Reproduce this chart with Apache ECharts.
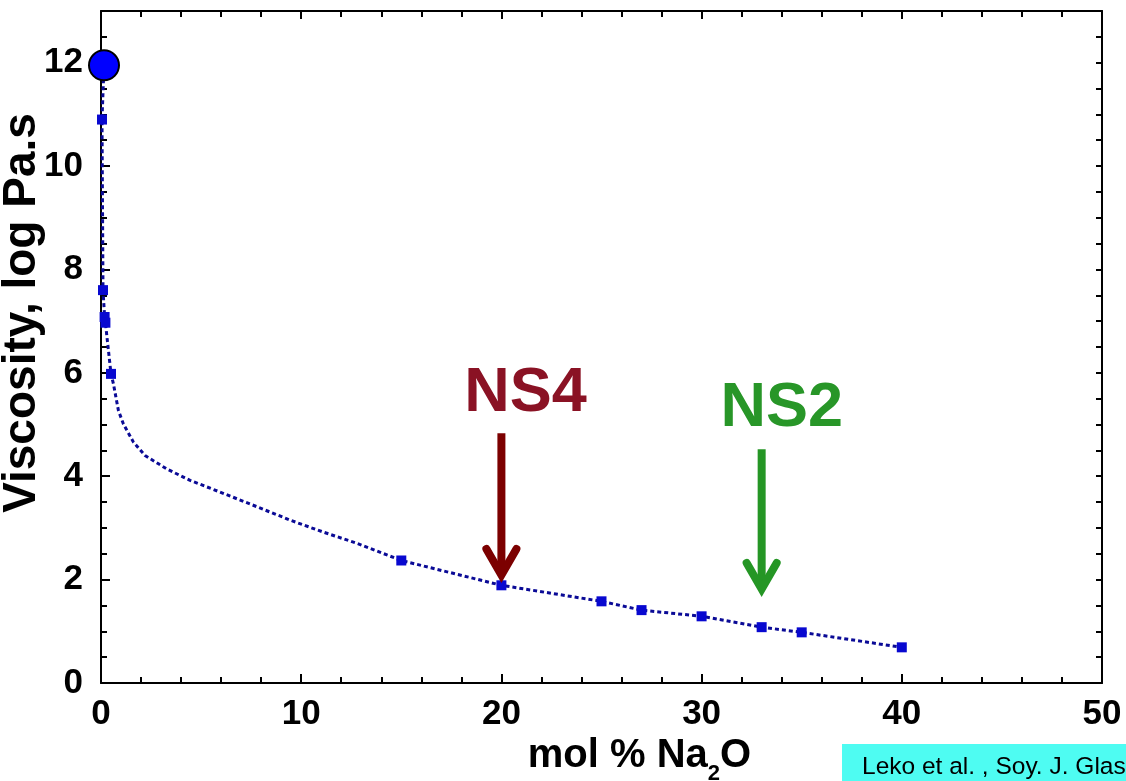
<!DOCTYPE html>
<html>
<head>
<meta charset="utf-8">
<script src="https://cdn.jsdelivr.net/npm/echarts@6/dist/echarts.min.js"></script>
<style>
  html, body { margin: 0; padding: 0; background: #ffffff; }
  #chart { width: 1126px; height: 781px; }
</style>
</head>
<body>
<div id="chart"></div>
<script>
// Measured viscosities of sodium silicate melts: composition (mol % Na2O) vs log10 viscosity (Pa.s)
const measuredX = [0.05, 0.1, 0.18, 0.22, 0.5, 15, 20, 25, 27, 30, 33, 35, 40];
const measuredY = [10.9, 7.6, 7.08, 6.97, 5.98, 2.37, 1.89, 1.58, 1.41, 1.29, 1.08, 0.98, 0.69];

// Pure silica reference point
const silicaX = [0.15];
const silicaY = [11.95];

// Trend curve through the measurements
const curveX = [0.15, 0.05, 0.1, 0.18, 0.22, 0.5, 0.62, 0.87, 1.12, 1.62, 2.2, 3.29, 4.45, 6.1, 7.79, 9.45, 11.1, 12.8, 15, 20, 25, 27, 30, 33, 35, 40];
const curveY = [11.95, 10.9, 7.6, 7.08, 6.97, 5.98, 5.79, 5.27, 5.01, 4.66, 4.4, 4.14, 3.92, 3.67, 3.41, 3.15, 2.92, 2.7, 2.37, 1.89, 1.58, 1.41, 1.29, 1.08, 0.98, 0.69];

// Glass compositions called out with arrows
const calloutNames = ['NS4', 'NS2'];
const calloutX = [20, 33];
const calloutTop = [4.83, 4.52];
const calloutTip = [2.03, 1.76];
const calloutLabelX = [21.2, 34.0];
const calloutLabelY = [5.6, 5.31];

const citation = 'Leko et al. , Soy. J. Glass Phys. Chem.';

const FONT = '"Liberation Sans", Arial, Helvetica, sans-serif';
const arrowColors = ['#7c0000', '#259625'];
const labelColors = ['#8a1224', '#289628'];

const zip = (xs, ys) => xs.map((x, i) => [x, ys[i]]);

const chart = echarts.init(document.getElementById('chart'), null, { renderer: 'canvas' });

const tickStyle = { color: '#000', width: 2 };
const baseAxisLine = { show: true, onZero: false, lineStyle: { color: '#000', width: 2 } };

const option = {
  animation: false,
  backgroundColor: '#ffffff',
  grid: { left: 101, right: 24, top: 11, bottom: 98, containLabel: false, outerBoundsMode: 'none' },
  xAxis: [
    {
      type: 'value', position: 'bottom', min: 0, max: 50, interval: 10,
      axisLine: baseAxisLine,
      axisTick: { show: true, inside: true, length: 9, lineStyle: tickStyle },
      minorTick: { show: true, splitNumber: 5, length: 6, lineStyle: tickStyle },
      splitLine: { show: false },
      axisLabel: { show: true, margin: 14, color: '#000', fontFamily: FONT, fontWeight: 'bold', fontSize: 35 },
      name: '{a|mol % Na}{s|2}{a|O}',
      nameLocation: 'middle',
      nameGap: 44,
      nameMoveOverlap: false,
      nameTextStyle: {
        padding: [0, 0, 0, 76],
        rich: {
          a: { color: '#000', fontFamily: FONT, fontWeight: 'bold', fontSize: 40, lineHeight: 58, verticalAlign: 'middle' },
          s: { color: '#000', fontFamily: FONT, fontWeight: 'bold', fontSize: 22, lineHeight: 26, verticalAlign: 'bottom' }
        }
      }
    },
    {
      type: 'value', position: 'top', min: 0, max: 50, interval: 10,
      axisLine: baseAxisLine,
      axisTick: { show: true, inside: true, length: 8, lineStyle: tickStyle },
      minorTick: { show: true, splitNumber: 5, length: 6, lineStyle: tickStyle },
      splitLine: { show: false },
      axisLabel: { show: false }
    }
  ],
  yAxis: [
    {
      type: 'value', position: 'left', min: 0, max: 13, interval: 2,
      axisLine: baseAxisLine,
      axisTick: { show: true, inside: true, length: 9, lineStyle: tickStyle },
      splitLine: { show: false },
      axisLabel: {
        show: true, margin: 18, color: '#000', fontFamily: FONT, fontWeight: 'bold', fontSize: 35,
        showMaxLabel: false,
        formatter: v => (v % 2 === 0 ? String(v) : '')
      },
      name: 'Viscosity, log Pa.s',
      nameLocation: 'middle',
      nameGap: 56,
      nameMoveOverlap: false,
      nameTextStyle: { color: '#000', fontFamily: FONT, fontWeight: 'bold', fontSize: 46, padding: [0, 0, 0, 68] }
    },
    {
      type: 'value', position: 'left', min: 0, max: 13, interval: 0.5,
      axisLine: { show: false },
      axisTick: { show: true, inside: true, length: 6, lineStyle: tickStyle },
      splitLine: { show: false },
      axisLabel: { show: false }
    },
    {
      type: 'value', position: 'right', min: 0, max: 13, interval: 0.5,
      axisLine: baseAxisLine,
      axisTick: { show: true, inside: true, length: 6, lineStyle: tickStyle },
      splitLine: { show: false },
      axisLabel: { show: false }
    }
  ],
  series: [
    {
      name: 'trend',
      type: 'line',
      xAxisIndex: 0, yAxisIndex: 0,
      data: zip(curveX, curveY),
      showSymbol: false,
      symbol: 'none',
      smooth: false,
      lineStyle: { color: '#0a0a96', width: 3, type: [4, 3] },
      z: 2
    },
    {
      name: 'measured',
      type: 'scatter',
      xAxisIndex: 0, yAxisIndex: 0,
      data: zip(measuredX, measuredY),
      symbol: 'rect',
      symbolSize: 10,
      itemStyle: { color: '#0808d0', opacity: 1 },
      z: 3
    },
    {
      name: 'silica',
      type: 'scatter',
      xAxisIndex: 0, yAxisIndex: 0,
      data: zip(silicaX, silicaY),
      symbol: 'circle',
      symbolSize: 30,
      itemStyle: { color: '#0000ff', borderColor: '#000', borderWidth: 2, opacity: 1 },
      z: 4
    },
    {
      name: 'callouts',
      type: 'custom',
      xAxisIndex: 0, yAxisIndex: 0,
      data: calloutX.map((x, i) => [x, calloutTop[i], calloutTip[i], calloutLabelX[i], calloutLabelY[i]]),
      clip: false,
      z: 5,
      renderItem: (params, api) => {
        const i = params.dataIndex;
        const top = api.coord([api.value(0), api.value(1)]);
        const tip = api.coord([api.value(0), api.value(2)]);
        const lab = api.coord([api.value(3), api.value(4)]);
        const c = arrowColors[i];
        return {
          type: 'group',
          children: [
            {
              type: 'line',
              shape: { x1: top[0], y1: top[1], x2: tip[0], y2: tip[1] - 4 },
              style: { stroke: c, lineWidth: 8 }
            },
            {
              type: 'polyline',
              shape: { points: [[tip[0] - 15, tip[1] - 29], [tip[0], tip[1] - 3], [tip[0] + 15, tip[1] - 29]] },
              style: { stroke: c, fill: null, lineWidth: 8, lineCap: 'round', lineJoin: 'miter' }
            },
            {
              type: 'text',
              x: lab[0], y: lab[1],
              style: {
                text: calloutNames[i], fill: labelColors[i],
                font: 'bold 63px ' + FONT,
                align: 'center', verticalAlign: 'middle'
              }
            }
          ]
        };
      }
    }
  ],
  graphic: [
    {
      type: 'rect', left: 842, top: 744,
      shape: { width: 284, height: 37 },
      style: { fill: '#4efcf2' }
    },
    {
      type: 'text', left: 862, top: 755,
      style: { text: citation, fill: '#000', font: '24.5px ' + FONT }
    }
  ]
};

chart.setOption(option);
</script>
</body>
</html>
